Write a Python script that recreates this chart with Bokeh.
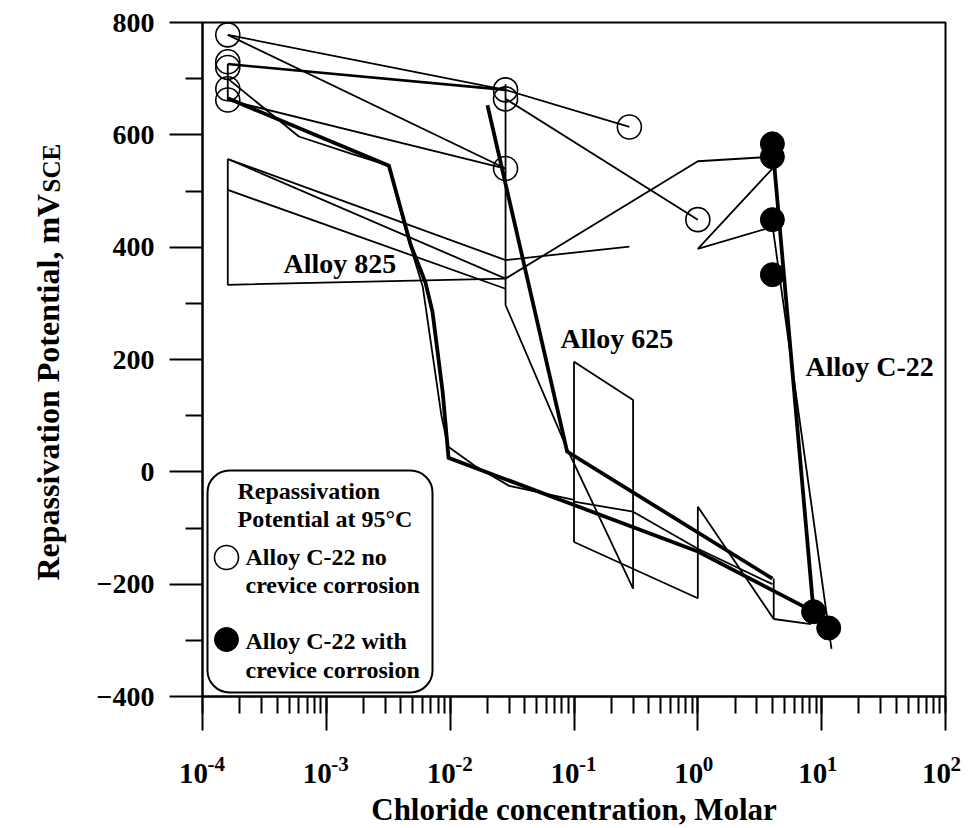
import math
from bokeh.plotting import figure
from bokeh.models import Range1d, FixedTicker, LogTicker, Label, BoxAnnotation, CustomJSTickFormatter
from bokeh.embed import file_html
from bokeh.resources import INLINE

FONT = "Liberation Serif"

# ---------------- data ----------------
# axis limits of the plotted box
x_min, x_max = 1e-4, 1e2
y_min, y_max = -400, 800

# Alloy C-22, no crevice corrosion (open circles)
open_x = [1.6e-4, 1.6e-4, 1.6e-4, 1.6e-4, 1.6e-4, 0.028, 0.028, 0.028, 0.28, 1.0]
open_y = [778, 730, 720, 682, 662, 680, 664, 540, 614, 449]
# Alloy C-22, with crevice corrosion (filled circles)
filled_x = [4.0, 4.0, 4.0, 4.0, 8.6, 11.4]
filled_y = [584, 561, 449, 351, -249, -278]

# thin traces
c22_s1_x = [1.6e-4, 0.028, 0.28]
c22_s1_y = [778, 680, 614]
c22_s2_x = [1.6e-4, 0.028]
c22_s2_y = [778, 540]
c22_s3_x = [1.6e-4, 0.028]
c22_s3_y = [662, 540]
c22_s4_x = [0.028, 1.0]
c22_s4_y = [664, 449]
c22_s6_x = [1.6e-4, 6e-4, 1.6e-3, 3.2e-3]
c22_s6_y = [700, 597, 566, 545]
c22_s7_x = [1.6e-4, 1.6e-4]
c22_s7_y = [726, 662]
c22_c1_x = [4.0, 1.0, 4.0]
c22_c1_y = [540, 397, 436]
c22_c2_x = [4.0, 12.0]
c22_c2_y = [440, -315]

a825_b1_x = [1.6e-4, 1.6e-4, 0.028, 1.0, 4.0]
a825_b1_y = [557, 333, 344, 553, 561]
a825_b2_x = [1.6e-4, 0.028, 0.28]
a825_b2_y = [557, 377, 401]
a825_b3_x = [1.6e-4, 0.028]
a825_b3_y = [557, 344]
a825_b4_x = [1.6e-4, 0.028]
a825_b4_y = [502, 326]
a825_b5_x = [0.028, 0.028, 0.088, 0.3]
a825_b5_y = [690, 297, 41, -208]
a825_thin_x = [3.2e-3, 4.5e-3, 6.0e-3, 8.5e-3, 9.6e-3, 0.016, 0.03, 0.1]
a825_thin_y = [545, 420, 330, 100, 45, 10, -25, -50]

a625_z1_x = [0.1, 0.1, 0.3, 0.3]
a625_z1_y = [-125, 196, 128, -208]
a625_z2_x = [0.1, 1.0, 1.0, 4.1, 4.1]
a625_z2_y = [-125, -225, -62, -262, -190]
a625_z3_x = [4.1, 8.2]
a625_z3_y = [-262, -271]
a625_z4_x = [0.1, 0.3, 1.0, 4.0]
a625_z4_y = [-53, -71, -137, -200]

# medium trace
c22_s5_x = [1.6e-4, 0.028]
c22_s5_y = [726, 680]

# thick (mean) traces
a825_mean_x = [1.6e-4, 3.2e-3, 4.8e-3, 6.3e-3, 7.2e-3, 8.7e-3, 9.7e-3, 0.1, 1.0, 8.6]
a825_mean_y = [665, 545, 404, 338, 285, 142, 25, -59, -142, -249]
a625_mean_x = [0.02, 0.088, 4.0]
a625_mean_y = [653, 36, -190]
c22_mean_x = [4.0, 8.6]
c22_mean_y = [584, -249]

y_ticks = [-400, -200, 0, 200, 400, 600, 800]
y_minor = [-300, -100, 100, 300, 500, 700]
x_exponents = ["-4", "-3", "-2", "-1", "0", "1", "2"]

# ---------------- page geometry ----------------
W, H = 970, 828
BOX_L, BOX_R, BOX_T, BOX_B = 202, 945, 22, 696
DEC = (BOX_R - BOX_L) / 6.0            # px per decade
PPM = (BOX_B - BOX_T) / 1200.0         # px per mV

def cx(px):
    return 10 ** ((px - BOX_L) / DEC - 4)

def vy(py):
    return 800 - (py - BOX_T) / PPM

p = figure(width=W, height=H, x_axis_type="log", title=None,
           x_range=Range1d(cx(0), cx(W)), y_range=Range1d(vy(H), vy(0)),
           output_backend="svg", toolbar_location=None,
           min_border_left=0, min_border_right=0,
           min_border_top=0, min_border_bottom=0)
p.background_fill_color = "white"
p.border_fill_color = "white"
p.xgrid.visible = False
p.ygrid.visible = False
p.outline_line_color = None

ya = p.yaxis[0]
ya.fixed_location = x_min
ya.bounds = (y_min, y_max)
ya.ticker = FixedTicker(ticks=y_ticks, minor_ticks=y_minor)
ya.major_tick_out = 33
ya.major_tick_in = 0
ya.minor_tick_out = 17
ya.minor_tick_in = 0
ya.major_tick_line_width = 2
ya.minor_tick_line_width = 2
ya.axis_line_width = 2
ya.major_label_standoff = 15
ya.major_label_text_font = FONT
ya.major_label_text_font_style = "bold"
ya.major_label_text_font_size = "28px"
ya.major_label_text_color = "black"

xa = p.xaxis[0]
xa.fixed_location = y_min
xa.bounds = (x_min, x_max)
xa.ticker = LogTicker(num_minor_ticks=10)
xa.formatter = CustomJSTickFormatter(code="return ''")
xa.major_tick_out = 34
xa.major_tick_in = 0
xa.minor_tick_out = 17
xa.minor_tick_in = 0
xa.major_tick_line_width = 2
xa.minor_tick_line_width = 2
xa.axis_line_width = 2
xa.major_label_text_font_size = "1px"

# plot box (top and right edges; left/bottom are the axes)
p.quad(left=[x_min], right=[x_max], bottom=[y_min], top=[y_max],
       fill_color=None, line_color="black", line_width=2)

# ---------------- traces ----------------
thin = [(c22_s1_x, c22_s1_y), (c22_s2_x, c22_s2_y), (c22_s3_x, c22_s3_y),
        (c22_s4_x, c22_s4_y), (c22_s6_x, c22_s6_y), (c22_s7_x, c22_s7_y),
        (c22_c1_x, c22_c1_y), (c22_c2_x, c22_c2_y),
        (a825_b1_x, a825_b1_y), (a825_b2_x, a825_b2_y), (a825_b3_x, a825_b3_y),
        (a825_b4_x, a825_b4_y), (a825_b5_x, a825_b5_y), (a825_thin_x, a825_thin_y),
        (a625_z1_x, a625_z1_y), (a625_z2_x, a625_z2_y), (a625_z3_x, a625_z3_y),
        (a625_z4_x, a625_z4_y)]
for xs, ys in thin:
    p.line(xs, ys, line_color="black", line_width=1.8)

p.line(c22_s5_x, c22_s5_y, line_color="black", line_width=2.6)

for xs, ys in [(a825_mean_x, a825_mean_y), (a625_mean_x, a625_mean_y), (c22_mean_x, c22_mean_y)]:
    p.line(xs, ys, line_color="black", line_width=3.8, line_join="miter")

p.scatter(open_x, open_y, marker="circle", size=24, fill_color=None,
          line_color="black", line_width=1.6)
p.scatter(filled_x, filled_y, marker="circle", size=24, fill_color="black",
          line_color="black", line_width=1)

# ---------------- texts ----------------
# Labels drawn with an alphabetic baseline land about 0.35 * font size lower
# than asked, so every requested baseline below is corrected for that.
def lab(text, x, y, size, align="left", angle=0.0, x_offset=0):
    l = Label(x=x, y=y, text=text, text_font=FONT, text_font_style="bold",
              text_font_size=size, text_color="black", text_align=align,
              text_baseline="alphabetic", angle=angle, x_offset=x_offset,
              level="overlay")
    p.add_layout(l)

# alloy names
lab("Alloy 825", cx(283), vy(263), "28px")
lab("Alloy 625", cx(560), vy(338), "28px")
lab("Alloy C-22", cx(805), vy(366), "28px")

# x tick labels 10^n
for k, e in enumerate(x_exponents):
    dec = 10.0 ** (k - 4)
    lab("10", dec, vy(773), "29px", align="center", x_offset=-9)
    lab(e, dec, vy(763), "21px", align="left", x_offset=5)

# axis titles
lab("Chloride concentration, Molar", math.sqrt(x_min * x_max), vy(809), "31px", align="center")
lab("Repassivation Potential, mV", cx(47), vy(580), "32px", angle=math.pi / 2)
lab("SCE", cx(51), vy(192), "25px", angle=math.pi / 2)

# ---------------- legend ----------------
box = BoxAnnotation(left=cx(207), right=cx(432), top=vy(470), bottom=vy(692),
                    fill_color="white", fill_alpha=1.0, line_color="black",
                    line_alpha=1.0, line_width=2, border_radius=22, level="annotation")
p.add_layout(box)
lab("Repassivation", cx(237), vy(490), "24px")
lab("Potential at 95\u00b0C", cx(237), vy(518), "24px")
lab("Alloy C-22 no", cx(245), vy(556), "24px")
lab("crevice corrosion", cx(245), vy(584), "24px")
lab("Alloy C-22 with", cx(245), vy(640), "24px")
lab("crevice corrosion", cx(245), vy(669), "24px")
p.scatter([cx(226)], [vy(557)], marker="circle", size=24, fill_color="white",
          line_color="black", line_width=1.6, level="overlay")
p.scatter([cx(226)], [vy(639)], marker="circle", size=24, fill_color="black",
          line_color="black", line_width=1, level="overlay")

open("out.html", "w").write(file_html(p, INLINE))
